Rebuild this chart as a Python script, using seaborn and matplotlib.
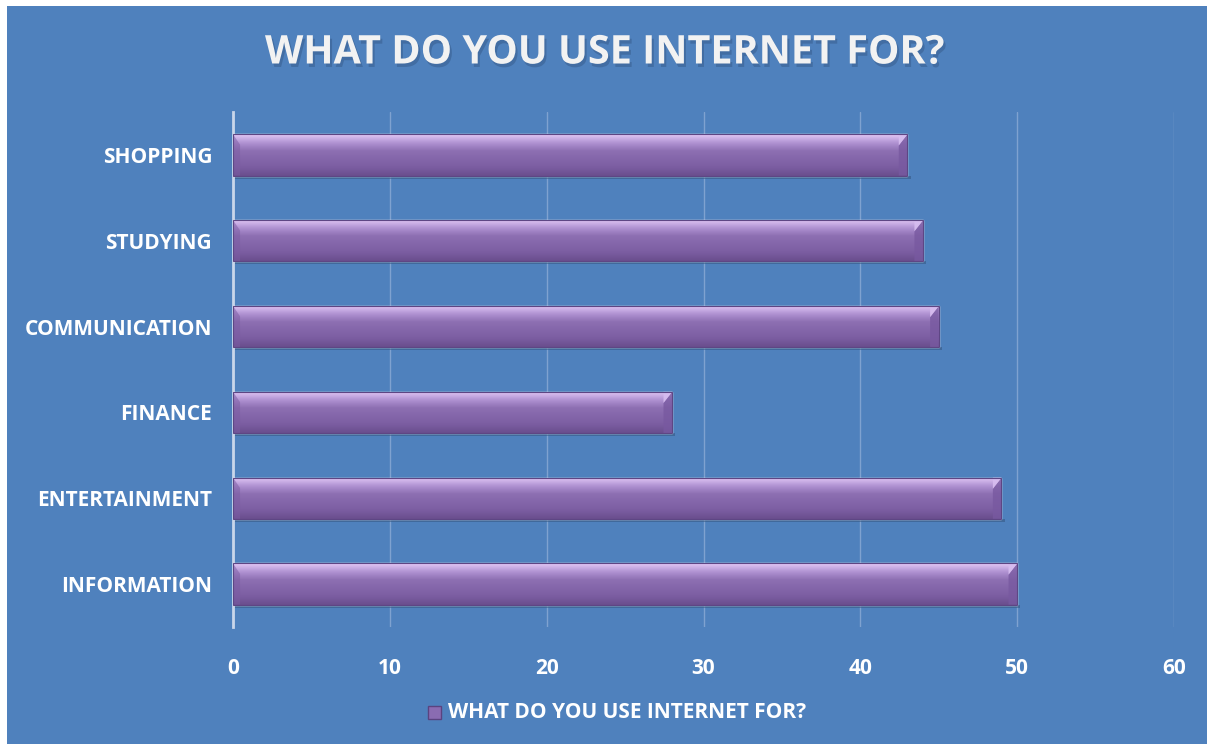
import numpy as np
import pandas as pd
import matplotlib
matplotlib.use("Agg")
import matplotlib.pyplot as plt
import matplotlib.patheffects as pe
from matplotlib.colors import LinearSegmentedColormap
from matplotlib.patches import Rectangle, Polygon
import seaborn as sns

categories = ["SHOPPING", "STUDYING", "COMMUNICATION", "FINANCE", "ENTERTAINMENT", "INFORMATION"]
values = [43, 44, 45, 28, 49, 50]
series_name = "WHAT DO YOU USE INTERNET FOR?"
x_ticks = [0, 10, 20, 30, 40, 50, 60]

BG = "#4F81BD"
BAR = "#8566AC"

sns.set_theme(style="white")
plt.rcParams["font.family"] = ["Open Sans", "DejaVu Sans"]

df = pd.DataFrame({"category": categories, "value": values})

fig = plt.figure(figsize=(12.09, 7.46), dpi=100)
fig.patch.set_facecolor("white")
# blue chart area with a thin white margin
fig.patches.append(Rectangle((7 / 1209, 2 / 746), 1200 / 1209, 738 / 746,
                             transform=fig.transFigure, facecolor=BG,
                             edgecolor="none", zorder=-10))

ax = fig.add_axes([233 / 1209, 1 - 627 / 746, (1174 - 233) / 1209, (627 - 112) / 746])
ax.set_facecolor(BG)

sns.barplot(data=df, x="value", y="category", orient="h", color=BAR,
            width=0.48, saturation=1, ax=ax, zorder=3)

ax.set_xlim(0, 60)
ax.set_xticks(x_ticks)
ax.set_xticklabels([str(t) for t in x_ticks])
ax.set_xlabel("")
ax.set_ylabel("")
for s in ["top", "right", "bottom"]:
    ax.spines[s].set_visible(False)
ax.spines["left"].set_color("#C9D6EA")
ax.spines["left"].set_linewidth(2)
ax.grid(axis="x", color="#7FA2D0", linewidth=1, zorder=0)
ax.tick_params(axis="y", length=0, pad=15, labelcolor="white")
ax.tick_params(axis="x", length=0, pad=22, labelcolor="white")
for lab in ax.get_xticklabels() + ax.get_yticklabels():
    lab.set_fontweight("bold")
    lab.set_fontsize(15)

# shading on each bar: light top edge, darker lower band, bevelled ends
grad = LinearSegmentedColormap.from_list(
    "bevel", ["#E2C8F6", "#B193D3", "#8D6FB2", "#8466AA", "#7B5DA1", "#6A4E8E"])
shade = np.linspace(0, 1, 64).reshape(-1, 1)
for patch in ax.patches:
    x0, y0 = patch.get_x(), patch.get_y()
    w, h = patch.get_width(), patch.get_height()
    # soft shadow under the bar
    ax.add_patch(Rectangle((x0 + 0.1, y0 + h), w + 0.1, 0.035, facecolor="#34577F",
                           alpha=0.55, edgecolor="none", zorder=2))
    im = ax.imshow(shade, cmap=grad, aspect="auto",
                   extent=(x0, x0 + w, y0 + h, y0), zorder=4, interpolation="bicubic")
    im.set_clip_path(patch)
    d = 0.55
    # right end: darker face with a bright top corner
    ax.add_patch(Polygon([(x0 + w - d, y0 + 0.13), (x0 + w, y0), (x0 + w, y0 + h),
                          (x0 + w - d, y0 + h)],
                         closed=True, facecolor="#7859A0", edgecolor="none",
                         alpha=0.8, zorder=5))
    ax.add_patch(Polygon([(x0 + w - d, y0), (x0 + w, y0), (x0 + w - d, y0 + 0.13)],
                         closed=True, facecolor="#D7BDF0", edgecolor="none",
                         alpha=0.9, zorder=5))
    # left end: dark top corner
    ax.add_patch(Polygon([(x0, y0), (x0 + 0.45, y0 + 0.12), (x0 + 0.45, y0 + h), (x0, y0 + h)],
                         closed=True, facecolor="#7B5CA3", edgecolor="none",
                         alpha=0.5, zorder=5))
    ax.add_patch(Rectangle((x0, y0), w, h, facecolor="none", edgecolor="#5E4684",
                           linewidth=0.8, zorder=6))
ax.set_ylim(5.5, -0.5)

fig.text(0.5, 1 - 53 / 746, "WHAT DO YOU USE INTERNET FOR?", ha="center", va="center",
         color="#F2F2F2", fontsize=28.5, fontweight="bold",
         path_effects=[pe.withSimplePatchShadow(offset=(1.5, -2.5), shadow_rgbFace="#2B4A73",
                                                alpha=0.35)])

# legend entry
fig.patches.append(Rectangle((428 / 1209, 1 - 719 / 746), 13 / 1209, 13 / 746,
                             transform=fig.transFigure, facecolor="#8A6CB2",
                             edgecolor="#5A4380", linewidth=1))
fig.text(448 / 1209, 1 - 712 / 746, series_name, ha="left", va="center",
         color="white", fontsize=15, fontweight="bold")

fig.savefig("out.png", dpi=100, facecolor="white")
